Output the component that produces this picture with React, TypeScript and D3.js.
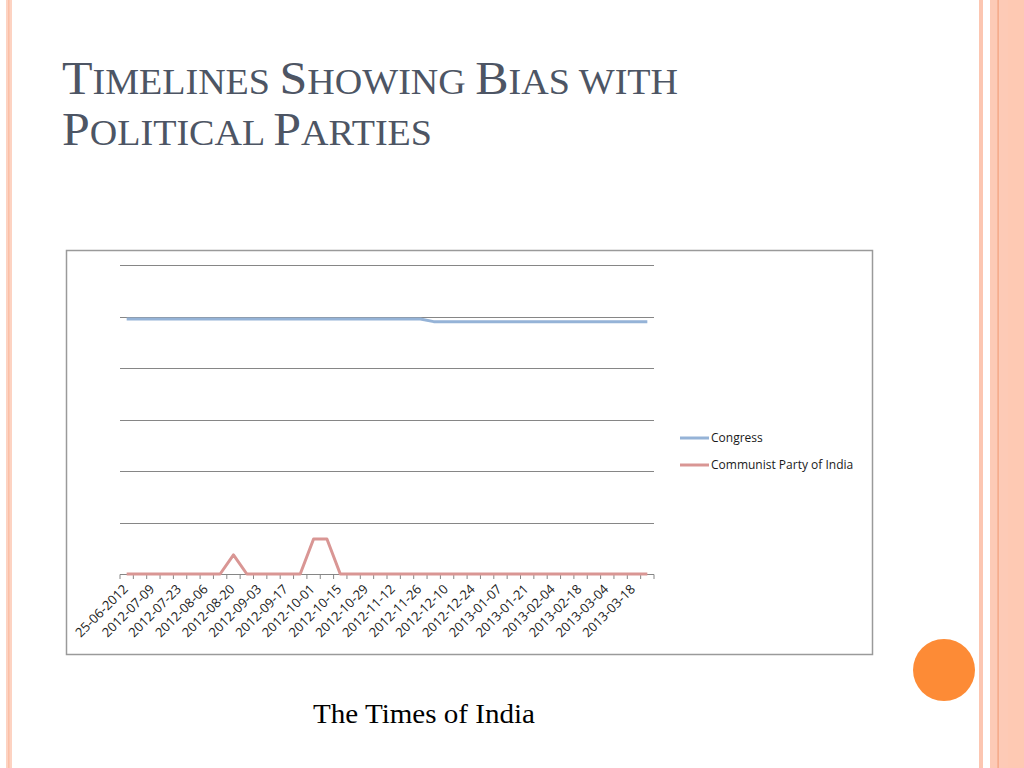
import React from "react";
import * as d3 from "d3";

const weeks: string[] = [
  "25-06-2012", "2012-07-02", "2012-07-09", "2012-07-16", "2012-07-23", "2012-07-30",
  "2012-08-06", "2012-08-13", "2012-08-20", "2012-08-27", "2012-09-03", "2012-09-10",
  "2012-09-17", "2012-09-24", "2012-10-01", "2012-10-08", "2012-10-15", "2012-10-22",
  "2012-10-29", "2012-11-05", "2012-11-12", "2012-11-19", "2012-11-26", "2012-12-03",
  "2012-12-10", "2012-12-17", "2012-12-24", "2012-12-31", "2013-01-07", "2013-01-14",
  "2013-01-21", "2013-01-28", "2013-02-04", "2013-02-11", "2013-02-18", "2013-02-25",
  "2013-03-04", "2013-03-11", "2013-03-18", "2013-03-25",
];

const congress: number[] = [
  4.95, 4.95, 4.95, 4.95, 4.95, 4.95, 4.95, 4.95, 4.95, 4.95,
  4.95, 4.95, 4.95, 4.95, 4.95, 4.95, 4.95, 4.95, 4.95, 4.95,
  4.95, 4.95, 4.95, 4.9, 4.9, 4.9, 4.9, 4.9, 4.9, 4.9,
  4.9, 4.9, 4.9, 4.9, 4.9, 4.9, 4.9, 4.9, 4.9, 4.9,
];

const communist: number[] = [
  0, 0, 0, 0, 0, 0, 0, 0, 0.37, 0,
  0, 0, 0, 0, 0.68, 0.68, 0, 0, 0, 0,
  0, 0, 0, 0, 0, 0, 0, 0, 0, 0,
  0, 0, 0, 0, 0, 0, 0, 0, 0, 0,
];

const seriesNames: string[] = ["Congress", "Communist Party of India"];
const seriesColors: string[] = ["#95b3d7", "#d99694"];
const yTicks: number[] = [1, 2, 3, 4, 5, 6];

const titleLines: { big: string; small: string }[][] = [
  [
    { big: "T", small: "IMELINES " },
    { big: "S", small: "HOWING " },
    { big: "B", small: "IAS WITH" },
  ],
  [
    { big: "P", small: "OLITICAL " },
    { big: "P", small: "ARTIES" },
  ],
];

export default function App() {
  const x = d3.scaleBand<string>().domain(weeks).range([120, 654]).padding(0);
  const y = d3.scaleLinear().domain([0, 6]).range([574, 265]);
  const cx = (d: string) => (x(d) ?? 0) + x.bandwidth() / 2;

  const line = d3
    .line<number>()
    .x((_, i) => cx(weeks[i]))
    .y((v) => y(v));

  const series = [congress, communist];
  const tickXs = weeks.map((w) => x(w) ?? 0).concat([654]);
  const labelFont = "'Open Sans', 'Liberation Sans', sans-serif";
  const titleColor = "#4d5564";

  return (
    <svg
      width={1024}
      height={768}
      style={{ position: "absolute", left: 0, top: 0, background: "#fff" }}
    >
      {/* slide decorations */}
      <rect x={6} y={0} width={6} height={768} fill="#fdd3c2" />
      <rect x={8} y={0} width={1.5} height={768} fill="#fbbfa6" />
      <rect x={979} y={0} width={4} height={768} fill="#fcc6b1" />
      <rect x={990} y={0} width={34} height={768} fill="#fdcab6" />
      <rect x={1008} y={0} width={16} height={768} fill="#fec9b3" />
      <rect x={997.5} y={0} width={1.2} height={768} fill="#f2a07c" />

      {/* title */}
      {titleLines.map((ln, li) => (
        <text
          key={li}
          x={62}
          y={94 + li * 51}
          fill={titleColor}
          fontFamily="'Liberation Serif', 'Times New Roman', serif"
          textLength={li === 0 ? 616 : 370}
          lengthAdjust="spacingAndGlyphs"
        >
          {ln.map((p, pi) => (
            <React.Fragment key={pi}>
              <tspan fontSize={46}>{p.big}</tspan>
              <tspan fontSize={35}>{p.small}</tspan>
            </React.Fragment>
          ))}
        </text>
      ))}

      {/* chart frame */}
      <rect x={66.5} y={250.5} width={806} height={404} fill="#fff" stroke="#9a9a9a" strokeWidth={1.5} />

      {/* gridlines */}
      {yTicks.map((t) => (
        <line key={t} x1={120} x2={654} y1={Math.round(y(t)) + 0.5} y2={Math.round(y(t)) + 0.5} stroke="#868686" strokeWidth={1} />
      ))}

      {/* x axis */}
      <line x1={120} x2={654} y1={574.5} y2={574.5} stroke="#868686" strokeWidth={1} />
      {tickXs.map((tx, i) => (
        <line key={i} x1={tx} x2={tx} y1={574.5} y2={579} stroke="#868686" strokeWidth={1} />
      ))}
      {weeks.map((w, i) =>
        i % 2 === 0 ? (
          <text
            key={w}
            transform={`translate(${cx(w) + 2},${590}) rotate(-45)`}
            textAnchor="end"
            fontFamily={labelFont}
            fontSize={13}
            fill="#1a1a1a"
          >
            {w}
          </text>
        ) : null
      )}

      {/* series */}
      {series.map((s, si) => (
        <path key={si} d={line(s) ?? ""} fill="none" stroke={seriesColors[si]} strokeWidth={3} strokeLinejoin="round" />
      ))}

      {/* legend */}
      {seriesNames.map((n, i) => (
        <g key={n} transform={`translate(680,${438 + i * 27})`}>
          <line x1={0} x2={29} y1={0} y2={0} stroke={seriesColors[i]} strokeWidth={3} />
          <text x={31} y={4} fontFamily={labelFont} fontSize={12} fill="#1a1a1a">
            {n}
          </text>
        </g>
      ))}

      {/* footer */}
      <text
        x={313}
        y={723}
        fontFamily="'Liberation Serif', 'Times New Roman', serif"
        fontSize={27}
        fill="#000"
        textLength={222}
        lengthAdjust="spacingAndGlyphs"
      >
        The Times of India
      </text>

      <circle cx={944} cy={670} r={31} fill="#fd8b36" />
    </svg>
  );
}
